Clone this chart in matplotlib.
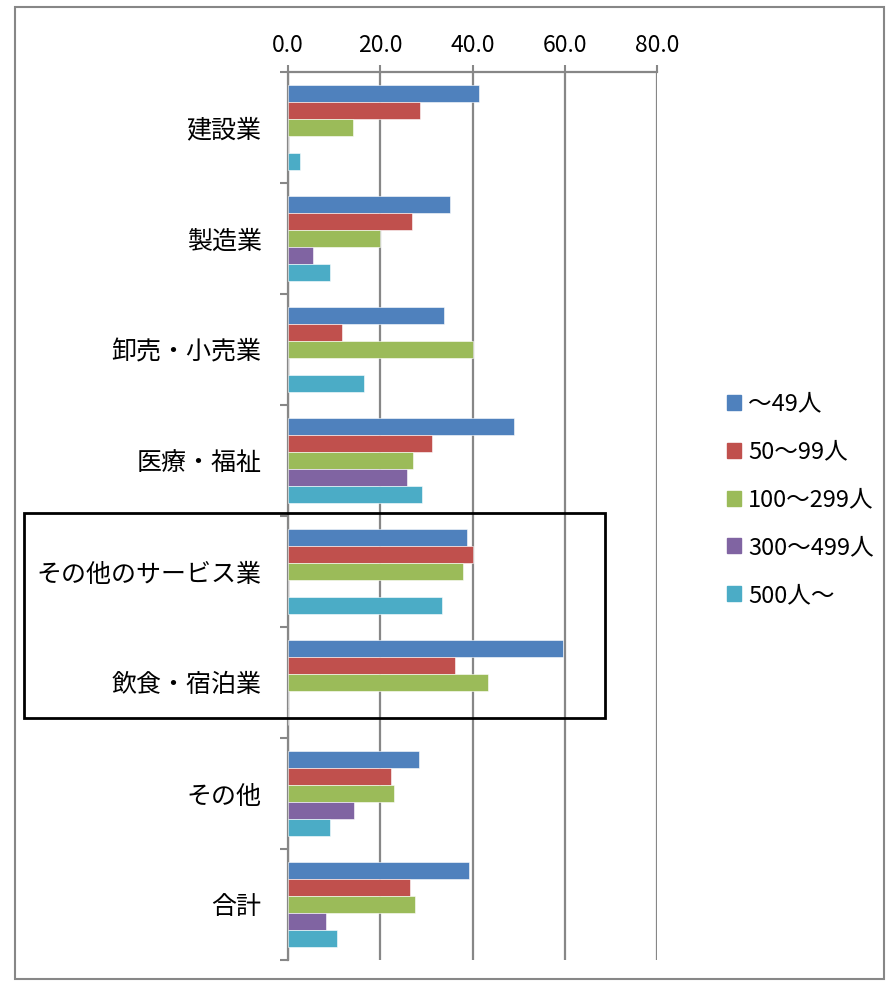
import matplotlib.pyplot as plt
import matplotlib.patches as mpatches
import numpy as np

plt.rcParams['font.family'] = ['Noto Sans CJK JP', 'DejaVu Sans']

# 業種と規模別の値
categories = ['建設業', '製造業', '卸売・小売業', '医療・福祉',
              'その他のサービス業', '飲食・宿泊業', 'その他', '合計']
series_names = ['～49人', '50～99人', '100～299人', '300～499人', '500人～']
colors = ['#4F81BD', '#C0504D', '#9BBB59', '#8064A2', '#4BACC6']

s49 = [41.5, 35.2, 33.8, 49.0, 38.7, 59.6, 28.3, 39.3]
s99 = [28.6, 26.9, 11.7, 31.2, 40.0, 36.3, 22.4, 26.5]
s299 = [14.2, 19.9, 40.1, 27.1, 37.9, 43.4, 23.0, 27.6]
s499 = [0.0, 5.5, 0.0, 25.8, 0.0, 0.0, 14.3, 8.3]
s500 = [2.5, 9.1, 16.5, 29.1, 33.3, 0.0, 9.1, 10.7]
values = [s49, s99, s299, s499, s500]

W, H = 888, 984
fig = plt.figure(figsize=(W / 100, H / 100), dpi=100)
ax = fig.add_axes([288 / W, 1 - 960 / H, (657 - 288) / W, (960 - 72) / H])

y = np.arange(len(categories))
bh = 0.153
for k, (vals, col, name) in enumerate(zip(values, colors, series_names)):
    ax.barh(y + (k - 2) * bh, vals, height=bh, color=col, label=name,
            edgecolor='white', linewidth=0.4, zorder=3)

ax.set_xlim(0, 80)
ax.set_ylim(len(categories) - 0.5, -0.5)
ax.xaxis.tick_top()
ax.set_xticks(np.arange(0, 81, 20))
ax.set_xticklabels([f'{v:.1f}' for v in np.arange(0, 81, 20)], fontsize=16.5)
ax.tick_params(axis='x', length=5, width=1.5, color='#878787', pad=6)
ax.grid(axis='x', color='#878787', linewidth=1.6, zorder=0)

ax.set_yticks(np.arange(-0.5, len(categories), 1))
ax.set_yticklabels([])
ax.set_yticks(y, minor=True)
ax.set_yticklabels(categories, minor=True, fontsize=18)
ax.tick_params(axis='y', which='major', length=6, width=1.5, color='#878787')
ax.tick_params(axis='y', which='minor', length=0, pad=19)

for side in ['right', 'bottom']:
    ax.spines[side].set_visible(False)
for side in ['left', 'top']:
    ax.spines[side].set_color('#878787')
    ax.spines[side].set_linewidth(1.6)

handles = [mpatches.Patch(color=c, label=n) for c, n in zip(colors, series_names)]
fig.legend(handles=handles, loc='upper left',
           bbox_to_anchor=(715 / W, 1 - 381 / H), frameon=False,
           fontsize=17, handlelength=0.6, handleheight=0.6,
           handletextpad=0.3, labelspacing=1.05, borderpad=0)

# 外枠と強調枠
fig.patches.append(mpatches.Rectangle((15 / W, 1 - 979 / H), (884 - 15) / W, (979 - 7) / H,
                                      transform=fig.transFigure, fill=False,
                                      edgecolor='#878787', linewidth=1.5))
fig.patches.append(mpatches.Rectangle((24 / W, 1 - 718 / H), (605 - 24) / W, (718 - 513) / H,
                                      transform=fig.transFigure, fill=False,
                                      edgecolor='black', linewidth=2))

fig.savefig('out.png', dpi=100)
